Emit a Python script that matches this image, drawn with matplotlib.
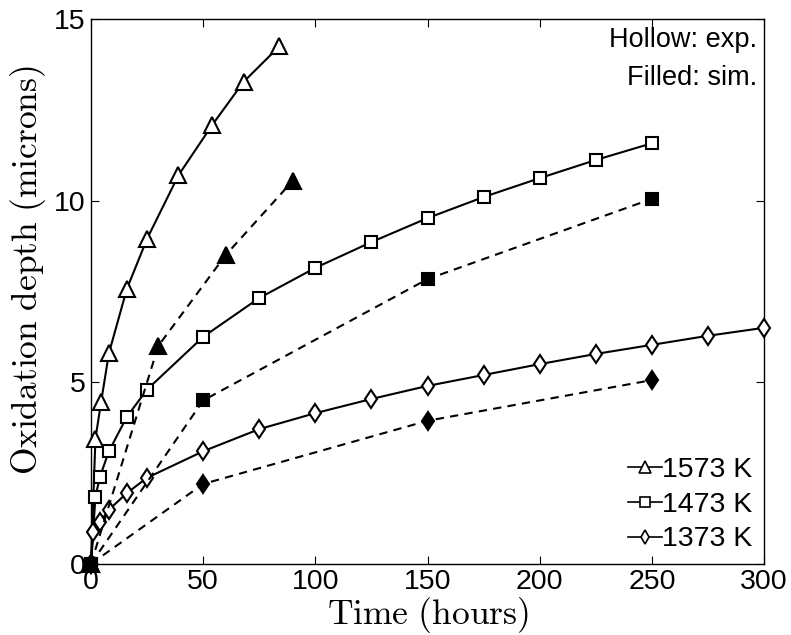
import matplotlib
matplotlib.use("Agg")
import matplotlib.pyplot as plt
from matplotlib.lines import Line2D

plt.rcParams['font.family'] = ['Liberation Sans', 'DejaVu Sans']
plt.rcParams['mathtext.fontset'] = 'cm'

# experiment (hollow markers, solid lines)
t_1573_exp = [0, 2, 4.5, 8, 16, 25, 39, 54, 68, 84]
d_1573_exp = [0, 3.45, 4.45, 5.8, 7.57, 8.95, 10.7, 12.08, 13.27, 14.25]
t_1473_exp = [0, 2, 4, 8, 16, 25, 50, 75, 100, 125, 150, 175, 200, 225, 250]
d_1473_exp = [0, 1.85, 2.4, 3.1, 4.05, 4.8, 6.25, 7.32, 8.15, 8.86, 9.52, 10.1, 10.62, 11.12, 11.58]
t_1373_exp = [0, 1, 4, 8, 16, 25, 50, 75, 100, 125, 150, 175, 200, 225, 250, 275, 300]
d_1373_exp = [0, 0.87, 1.15, 1.49, 1.95, 2.37, 3.1, 3.71, 4.15, 4.54, 4.9, 5.2, 5.5, 5.78, 6.03, 6.28, 6.5]

# simulation (filled markers, dashed lines)
t_1573_sim = [0, 30, 60, 90]
d_1573_sim = [0, 6.0, 8.5, 10.55]
t_1473_sim = [0, 50, 150, 250]
d_1473_sim = [0, 4.5, 7.84, 10.05]
t_1373_sim = [0, 50, 150, 250]
d_1373_sim = [0, 2.2, 3.94, 5.06]

labels = ['1573 K', '1473 K', '1373 K']
markers = ['^', 's', 'd']
msizes = [11, 8.5, 9.5]

fig = plt.figure(figsize=(7.91, 6.35), dpi=100)
ax = fig.add_axes([0.115, 0.112, 0.851, 0.858])

exp = [(t_1573_exp, d_1573_exp), (t_1473_exp, d_1473_exp), (t_1373_exp, d_1373_exp)]
sim = [(t_1573_sim, d_1573_sim), (t_1473_sim, d_1473_sim), (t_1373_sim, d_1373_sim)]

for (t, d), m, ms in zip(exp, markers, msizes):
    ax.plot(t, d, '-', color='black', lw=1.5, marker=m, ms=ms, mfc='white',
            mec='black', mew=1.5, clip_on=False, zorder=3)
for (t, d), m, ms in zip(sim, markers, msizes):
    ax.plot(t, d, '--', color='black', lw=1.5, dashes=(4, 3), marker=m, ms=ms,
            mfc='black', mec='black', mew=1.5, clip_on=False, zorder=4)

ax.set_xlim(0, 300)
ax.set_ylim(0, 15)
ax.set_xticks([0, 50, 100, 150, 200, 250, 300])
ax.set_yticks([0, 5, 10, 15])
ax.tick_params(direction='in', top=True, right=True, labelsize=20.5, length=6, pad=4)
for s in ax.spines.values():
    s.set_linewidth(1.0)

ax.set_xlabel(r'$\mathrm{Time\ (hours)}$', fontsize=25.5, labelpad=0)
ax.set_ylabel(r'$\mathrm{Oxidation\ depth\ (microns)}$', fontsize=25.5)
ax.yaxis.set_label_coords(-0.064, 0.54)

ax.text(0.99, 0.985, 'Hollow: exp.', transform=ax.transAxes, ha='right', va='top', fontsize=19.5)
ax.text(0.99, 0.915, 'Filled: sim.', transform=ax.transAxes, ha='right', va='top', fontsize=19.5)

handles = [Line2D([], [], color='black', lw=1.2, marker=m, ms=ms * 0.8, mfc='white',
                  mec='black', mew=1.2) for m, ms in zip(markers, msizes)]
ax.legend(handles, labels, loc='lower right', frameon=False, fontsize=20.5,
          handlelength=1.2, handletextpad=0.0, labelspacing=0.3, borderaxespad=0.0)

fig.savefig('out.png', dpi=100)
